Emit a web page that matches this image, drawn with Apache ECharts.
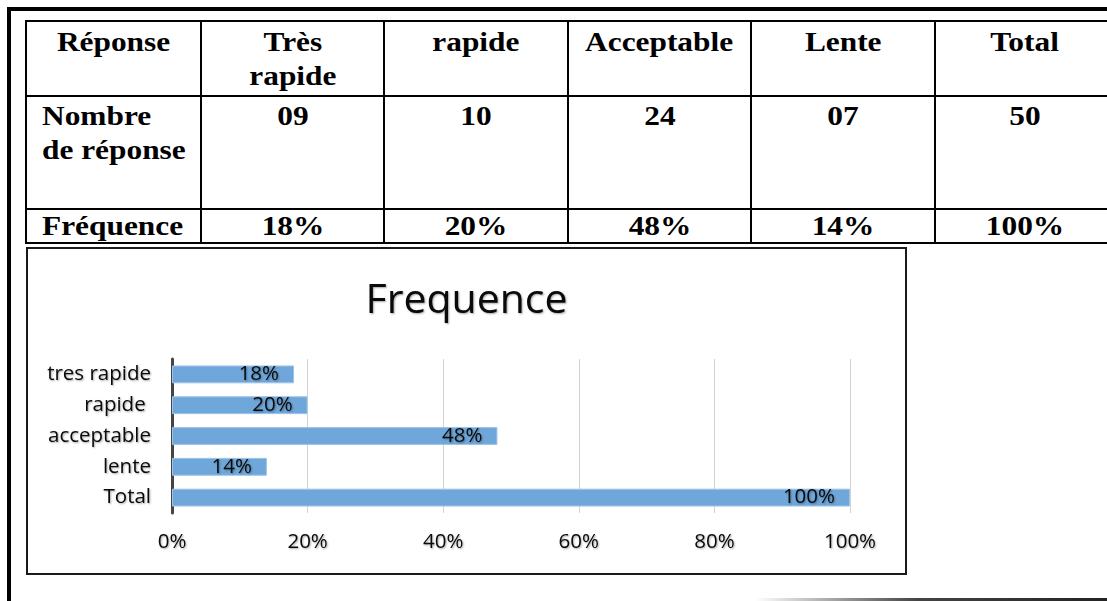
<!DOCTYPE html>
<html>
<head>
<meta charset="utf-8">
<script src="https://cdn.jsdelivr.net/npm/echarts@6/dist/echarts.min.js"></script>
<style>
  html, body { margin: 0; padding: 0; background: #fff; }
  body { width: 1107px; height: 601px; position: relative; overflow: hidden; }
  .frame { position: absolute; left: 7px; top: 7px; width: 1300px; height: 700px;
           border-top: 4px solid #000; border-left: 4px solid #000; }
  .foot { position: absolute; left: 755px; top: 598px; width: 360px; height: 3px;
          background: linear-gradient(to right, rgba(0,0,0,0), #444 45%, #222); }
  table.resp { position: absolute; left: 25px; top: 20px; border-collapse: collapse;
               font-family: "Liberation Serif", "Times New Roman", serif; font-weight: bold;
               font-size: 28px; line-height: 34px; color: #000; table-layout: fixed; }
  table.resp td { border: 2px solid #000; padding: 0; vertical-align: top; white-space: pre-line; }
  table.resp td span { display: inline-block; transform: scaleX(1.12); }
  table.resp tr.r1 td { height: 70px; padding-top: 3px; text-align: center; }
  table.resp tr.r2 td { height: 109px; padding-top: 2px; text-align: center; }
  table.resp tr.r3 td { height: 32px; line-height: 32px; text-align: center; vertical-align: middle; }
  table.resp tr td.lead { text-align: left; padding-left: 15px; }
  table.resp tr td.lead span { transform-origin: left center; }
  #chart { position: absolute; left: 26px; top: 247px; width: 877px; height: 324px;
           border: 2px solid #1a1a1a; background: #fff; }
</style>
</head>
<body>
<div class="frame"></div>
<table class="resp" id="tbl"></table>
<div id="chart"></div>
<div class="foot"></div>
<script>
// Survey answers: header labels, raw counts and frequencies (%)
const tableHeaders = ['Réponse', 'Très\nrapide', 'rapide', 'Acceptable', 'Lente', 'Total'];
const rowCountLabel = 'Nombre\nde réponse';
const rowFreqLabel = 'Fréquence';
const counts = [9, 10, 24, 7, 50];
const freqValues = [18, 20, 48, 14, 100];

// Chart categories and x-axis ticks
const chartCategories = ['tres rapide', 'rapide ', 'acceptable', 'lente', 'Total'];
const xTicks = [0, 20, 40, 60, 80, 100];

// Build the summary table (last column runs just past the page edge)
const colWidths = [175, 183, 184, 183, 184, 180];
const tbl = document.getElementById('tbl');
tbl.style.width = colWidths.reduce((a, b) => a + b, 0) + 'px';
const colgroup = document.createElement('colgroup');
colWidths.forEach(w => { const c = document.createElement('col'); c.style.width = w + 'px'; colgroup.appendChild(c); });
tbl.appendChild(colgroup);
function addRow(cls, cells, leadFirst) {
  const tr = document.createElement('tr');
  tr.className = cls;
  cells.forEach((txt, i) => {
    const td = document.createElement('td');
    if (i === 0 && leadFirst) td.className = 'lead';
    const sp = document.createElement('span');
    sp.textContent = txt;
    td.appendChild(sp);
    tr.appendChild(td);
  });
  tbl.appendChild(tr);
}
addRow('r1', tableHeaders, false);
addRow('r2', [rowCountLabel].concat(counts.map(n => String(n).padStart(2, '0'))), true);
addRow('r3', [rowFreqLabel].concat(freqValues.map(v => v + '%')), true);

// Horizontal bar chart of the frequencies
const shadow = { textShadowColor: 'rgba(0,0,0,0.35)', textShadowBlur: 2, textShadowOffsetX: 1, textShadowOffsetY: 1 };
const font = 'Open Sans';
const chart = echarts.init(document.getElementById('chart'), null, { renderer: 'canvas' });
chart.setOption({
  animation: false,
  title: {
    text: 'Frequence', left: 'center', top: 27,
    textStyle: Object.assign({ fontFamily: font, fontWeight: 'normal', fontSize: 41, color: '#0a0a0a' }, shadow)
  },
  grid: { left: 144, right: 55, top: 110, bottom: 60 },
  xAxis: {
    type: 'value', min: xTicks[0], max: xTicks[xTicks.length - 1], interval: xTicks[1] - xTicks[0],
    axisLine: { show: false }, axisTick: { show: false },
    splitLine: { lineStyle: { color: '#d2d2d2', width: 1 } },
    axisLabel: Object.assign({ formatter: '{value}%', fontFamily: font, fontSize: 20.5, color: '#0a0a0a', margin: 19 }, shadow)
  },
  yAxis: {
    type: 'category', data: chartCategories, inverse: true,
    axisLine: { lineStyle: { color: '#444', width: 3 } }, axisTick: { show: false },
    axisLabel: Object.assign({ fontFamily: font, fontSize: 20.5, color: '#0a0a0a', margin: 21 }, shadow)
  },
  series: [{
    type: 'bar', data: freqValues, barCategoryGap: '42%',
    itemStyle: { color: '#70a7da', borderColor: '#9fc4e8', borderWidth: 1 },
    label: Object.assign({ show: true, position: 'insideRight', distance: 15, formatter: '{c}%',
      fontFamily: font, fontSize: 20.5, color: '#0a0a0a' }, shadow)
  }]
});
</script>
</body>
</html>
